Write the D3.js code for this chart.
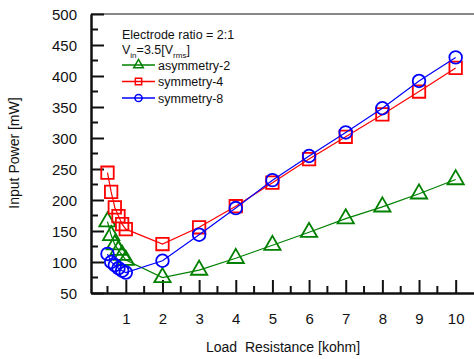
<!DOCTYPE html>
<html>
<head>
<meta charset="utf-8">
<script src="https://cdn.jsdelivr.net/npm/d3@7"></script>
<style>
  body { margin: 0; background: #fff; }
  text { font-family: Arial, "Liberation Sans", sans-serif; fill: #111; }
</style>
</head>
<body>
<div id="chart"></div>
<script>
// Data
const loadResistance = [0.5, 0.6, 0.7, 0.8, 0.9, 1, 2, 3, 4, 5, 6, 7, 8, 9, 10];
const asymmetry2 = [165, 143, 128, 119, 111, 103, 75, 87, 106, 127, 148, 170, 189, 210, 233];
const symmetry4 = [244, 213, 188, 174, 161, 153, 129, 156, 190, 228, 266, 302, 338, 375, 413];
const symmetry8 = [113, 100, 95, 90, 86, 83, 102, 144, 187, 232, 271, 309, 348, 392, 430];
const xTicks = [1, 2, 3, 4, 5, 6, 7, 8, 9, 10];
const yTicks = [50, 100, 150, 200, 250, 300, 350, 400, 450, 500];

const series = [
    { name: "asymmetry-2", values: asymmetry2, color: "#008000", symbol: d3.symbolTriangle, size: 115 },
    { name: "symmetry-4", values: symmetry4, color: "#ff0000", symbol: d3.symbolSquare, size: 155 },
    { name: "symmetry-8", values: symmetry8, color: "#0000ff", symbol: d3.symbolCircle, size: 125 }
];

const width = 474, height = 359;
const margin = { top: 14, right: 0, bottom: 66, left: 91 };

const svg = d3.select("#chart").append("svg")
    .attr("width", width)
    .attr("height", height);

const xScale = d3.scaleLinear()
    .domain([0.05, 10.5])
    .range([margin.left, width - margin.right]);

const yScale = d3.scaleLinear()
    .domain([50, 500])
    .range([height - margin.bottom, margin.top]);

// Top frame line
svg.append("line")
    .attr("x1", margin.left).attr("x2", width)
    .attr("y1", margin.top).attr("y2", margin.top)
    .attr("stroke", "#111").attr("stroke-width", 1);

// Minor ticks
const yMinor = d3.range(75, 500, 50);
svg.selectAll(".ymin").data(yMinor).enter().append("line")
    .attr("x1", margin.left).attr("x2", margin.left + 7)
    .attr("y1", d => yScale(d)).attr("y2", d => yScale(d))
    .attr("stroke", "#111").attr("stroke-width", 2);

const xMinor = d3.range(0.5, 10.5, 1);
svg.selectAll(".xmin").data(xMinor).enter().append("line")
    .attr("x1", d => xScale(d)).attr("x2", d => xScale(d))
    .attr("y1", yScale(50)).attr("y2", yScale(50) - 7)
    .attr("stroke", "#111").attr("stroke-width", 2);

// Axes
const yAxis = d3.axisLeft(yScale).tickValues(yTicks).tickSizeInner(-13).tickSizeOuter(0).tickPadding(14);
const gy = svg.append("g")
    .attr("transform", `translate(${margin.left},0)`)
    .call(yAxis);

const xAxis = d3.axisBottom(xScale).tickValues(xTicks).tickSizeInner(-13).tickSizeOuter(0).tickPadding(20);
const gx = svg.append("g")
    .attr("transform", `translate(0,${yScale(50)})`)
    .call(xAxis);

[gy, gx].forEach(g => {
    g.select(".domain").attr("stroke", "#111").attr("stroke-width", 2.5);
    g.selectAll(".tick line").attr("stroke", "#111").attr("stroke-width", 2);
    g.selectAll(".tick text").attr("font-size", 15).attr("fill", "#111")
        .style("font-family", "Arial, 'Liberation Sans', sans-serif");
});
gy.selectAll(".tick text").attr("dy", "0.36em");

// Axis titles
svg.append("text")
    .attr("x", 283).attr("y", 352)
    .attr("text-anchor", "middle")
    .attr("font-size", 14)
    .style("white-space", "pre")
    .text("Load  Resistance [kohm]");

svg.append("text")
    .attr("transform", "translate(19,153) rotate(-90)")
    .attr("text-anchor", "middle")
    .attr("font-size", 14)
    .text("Input Power [mW]");

// Lines and markers
const line = d3.line()
    .x((d, i) => xScale(loadResistance[i]))
    .y(d => yScale(d));

series.forEach(s => {
    svg.append("path")
        .datum(s.values)
        .attr("fill", "none")
        .attr("stroke", s.color)
        .attr("stroke-width", 1.2)
        .attr("d", line);

    svg.selectAll(null)
        .data(s.values)
        .enter()
        .append("path")
        .attr("d", d3.symbol().type(s.symbol).size(s.size))
        .attr("transform", (d, i) => `translate(${xScale(loadResistance[i])},${yScale(d)})`)
        .attr("fill", "none")
        .attr("stroke", s.color)
        .attr("stroke-width", 1.8);
});

// Legend
const legend = svg.append("g");
legend.append("text")
    .attr("x", 122).attr("y", 39)
    .attr("font-size", 12.5)
    .text("Electrode ratio = 2:1");

const vin = legend.append("text")
    .attr("x", 122).attr("y", 54)
    .attr("font-size", 12.5);
vin.append("tspan").text("V");
vin.append("tspan").attr("font-size", 8).attr("dy", 4).text("in");
vin.append("tspan").attr("dy", -4).text("=3.5[V");
vin.append("tspan").attr("font-size", 8).attr("dy", 4).text("rms");
vin.append("tspan").attr("dy", -4).text("]");

series.forEach((s, i) => {
    const y = 65 + i * 16.5;
    legend.append("line")
        .attr("x1", 122).attr("x2", 155)
        .attr("y1", y).attr("y2", y)
        .attr("stroke", s.color).attr("stroke-width", 1.5);
    legend.append("path")
        .attr("d", d3.symbol().type(s.symbol).size(40))
        .attr("transform", `translate(138.5,${y})`)
        .attr("fill", "none")
        .attr("stroke", s.color)
        .attr("stroke-width", 1.5);
    legend.append("text")
        .attr("x", 158).attr("y", y + 4.5)
        .attr("font-size", 12.5)
        .text(s.name);
});
</script>
</body>
</html>
